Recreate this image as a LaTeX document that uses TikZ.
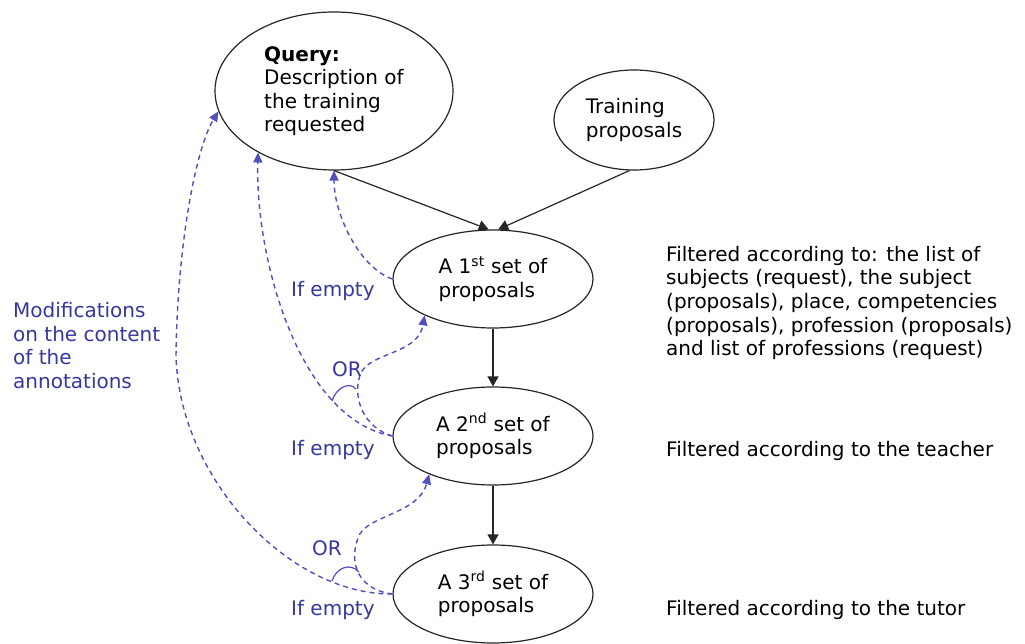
\documentclass[tikz,border=0pt]{standalone}
\usepackage{fontspec}
\setmainfont{DejaVu Sans}
\usetikzlibrary{shapes.geometric,arrows.meta}
\definecolor{dblue}{RGB}{80,80,190}
\definecolor{tblue}{RGB}{55,55,160}
\begin{document}
\begin{tikzpicture}[x=1pt,y=-1pt,
  every node/.style={font=\fontsize{20}{23.5}\selectfont, inner sep=0pt},
  oval/.style={draw=black!85, line width=1.2pt, ellipse, align=left},
  flow/.style={draw=black!85, line width=1.2pt, -{Triangle[length=10pt,width=11pt]}},
  back/.style={draw=dblue, line width=1.4pt, dash pattern=on 5pt off 4pt, -{Triangle[length=10pt,width=9pt,fill=dblue]}},
  orarc/.style={draw=dblue, line width=1.2pt},
  note/.style={anchor=base west, align=left},
  bnote/.style={anchor=base west, align=left, text=tblue}
]
\useasboundingbox (0,0) rectangle (1025,644);
\fill[white] (0,0) rectangle (1025,644);

\node[oval, minimum width=238pt, minimum height=158pt] (q) at (334,91)
  {\textbf{Query:}\\Description of\\the training\\requested};
\node[oval, minimum width=160pt, minimum height=100pt] (t) at (634,120)
  {Training\\proposals};
\node[oval, minimum width=200pt, minimum height=98pt] (s1) at (493,279)
  {A 1\textsuperscript{st} set of\\proposals};
\node[oval, minimum width=200pt, minimum height=98pt] (s2) at (493,436)
  {A 2\textsuperscript{nd} set of\\proposals};
\node[oval, minimum width=200pt, minimum height=98pt] (s3) at (493,594)
  {A 3\textsuperscript{rd} set of\\proposals};

\draw[flow] (q.270) -- (s1.95);
\draw[flow] (t.265) -- (s1.84);
\draw[flow] (s1.270) -- (s2.90);
\draw[flow] (s2.270) -- (s3.90);

% dashed feedback arrows
\draw[back] (s1.west) .. controls (360,268) and (334,215) .. (q.270);
\draw[back] (s2.west) .. controls (365,428) and (352,400) .. (360,375)
  .. controls (368,352) and (418,355) .. (s1.208);
\draw[back] (s2.west) .. controls (300,420) and (255,260) .. (q.219);
\draw[back] (s3.west) .. controls (360,590) and (348,565) .. (358,538)
  .. controls (365,515) and (418,515) .. (s2.211);
\draw[back] (s3.west) .. controls (290,595) and (180,480) .. (176,357)
  .. controls (177,250) and (195,150) .. (q.190);

% OR arcs
\draw[orarc] (332,401) .. controls (336,388) and (349,381) .. (356,389);
\draw[orarc] (332,581) .. controls (336,568) and (350,562) .. (359,572);

% labels
\node[bnote] (ie1) at (291,297) {If empty};
\node[bnote] (ie2) at (291,455) {If empty};
\node[bnote] (ie3) at (291,615) {If empty};
\node[bnote] (or1) at (332,376) {OR};
\node[bnote] (or2) at (312,555) {OR};
\node[bnote] (mod) at (13,388) {Modifications\\on the content\\of the\\annotations};

\node[note] (f1) at (666,355.5) {Filtered according to: the list of\\subjects (request), the subject\\(proposals), place, competencies\\(proposals), profession (proposals)\\and list of professions (request)};
\node[note] (f2) at (666,456) {Filtered according to the teacher};
\node[note] (f3) at (666,615) {Filtered according to the tutor};
\end{tikzpicture}
\end{document}
